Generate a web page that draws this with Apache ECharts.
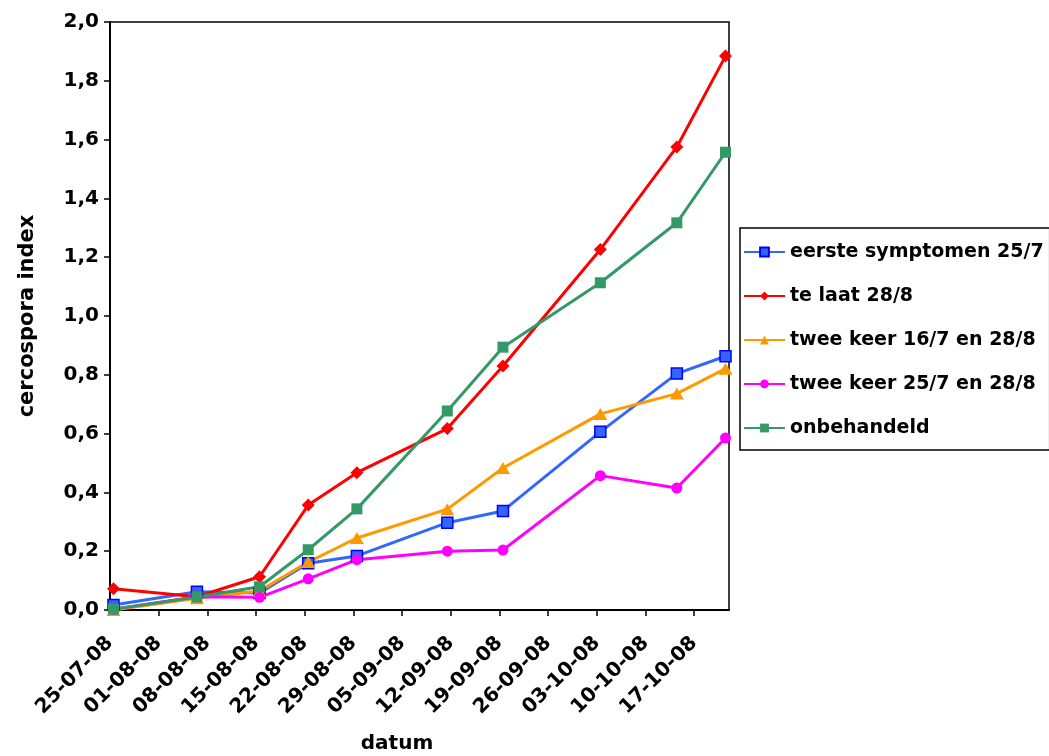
<!DOCTYPE html>
<html>
<head>
<meta charset="utf-8">
<script src="https://cdn.jsdelivr.net/npm/echarts@6/dist/echarts.min.js"></script>
<style>
  html, body { margin: 0; padding: 0; background: #fff; }
  #chart { width: 1049px; height: 756px; }
</style>
</head>
<body>
<div id="chart"></div>
<script>
// Observation dates (dd-mm-yy)
const dates = ['25-07-08', '06-08-08', '15-08-08', '22-08-08', '29-08-08',
               '11-09-08', '19-09-08', '03-10-08', '14-10-08', '21-10-08'];

// Weekly tick labels on the date axis
const tickLabels = ['25-07-08', '01-08-08', '08-08-08', '15-08-08', '22-08-08',
                    '29-08-08', '05-09-08', '12-09-08', '19-09-08', '26-09-08',
                    '03-10-08', '10-10-08', '17-10-08'];

// Cercospora index per treatment
const eersteSymptomen = [0.017, 0.062, 0.058, 0.159, 0.184, 0.297, 0.337, 0.606, 0.804, 0.863];
const teLaat          = [0.072, 0.045, 0.113, 0.357, 0.467, 0.617, 0.830, 1.226, 1.575, 1.884];
const tweeKeer167     = [0.000, 0.040, 0.065, 0.163, 0.245, 0.343, 0.483, 0.667, 0.736, 0.821];
const tweeKeer257     = [0.003, 0.045, 0.043, 0.106, 0.171, 0.200, 0.204, 0.457, 0.415, 0.585];
const onbehandeld     = [0.003, 0.044, 0.079, 0.205, 0.344, 0.677, 0.894, 1.113, 1.317, 1.557];

const seriesNames = ['eerste symptomen 25/7', 'te laat 28/8', 'twee keer 16/7 en 28/8',
                     'twee keer 25/7 en 28/8', 'onbehandeld'];

// Day numbers counted from the first tick date
function toUTC(s) {
  const p = s.split('-').map(Number);
  return Date.UTC(2000 + p[2], p[1] - 1, p[0]);
}
const DAY = 86400000;
const origin = toUTC(tickLabels[0]);
const dayOf = s => Math.round((toUTC(s) - origin) / DAY);
// each date sits in the middle of its one-day slot
const xs = dates.map(d => dayOf(d) + 0.5);
const tickDays = tickLabels.map(dayOf);
const axisMax = dayOf(dates[dates.length - 1]) + 1;

const pair = vals => vals.map((v, i) => [xs[i], v]);

const FONT = 'DejaVu Sans';

const chart = echarts.init(document.getElementById('chart'), null, { renderer: 'canvas' });

const mk = (name, vals, color, symbol, size, extra) => Object.assign({
  name: name,
  type: 'line',
  data: pair(vals),
  symbol: symbol,
  symbolSize: size,
  showAllSymbol: true,
  lineStyle: { color: color, width: 3 },
  itemStyle: { color: color },
  emphasis: { disabled: true },
  animation: false
}, extra || {});

chart.setOption({
  backgroundColor: '#ffffff',
  textStyle: { fontFamily: FONT },
  grid: {
    left: 110, top: 22, right: 320, bottom: 146,
    show: true, borderColor: '#000', borderWidth: 1.5,
    containLabel: false,
    outerBoundsMode: 'none'
  },
  legend: {
    orient: 'vertical',
    left: 740, top: 228,
    padding: [14, 6, 12, 3],
    borderColor: '#000', borderWidth: 1.5,
    itemWidth: 41, itemHeight: 11, itemGap: 24,
    textStyle: { fontFamily: FONT, fontWeight: 'bold', fontSize: 19, color: '#000', lineHeight: 20 },
    data: seriesNames
  },
  xAxis: {
    type: 'value',
    min: 0, max: axisMax, interval: 7,
    name: 'datum',
    nameLocation: 'middle',
    nameGap: 124,
    nameTextStyle: { fontFamily: FONT, fontWeight: 'bold', fontSize: 20, color: '#000', padding: [0, 45, 0, 0] },
    axisLine: { onZero: false, lineStyle: { color: '#000', width: 2 } },
    axisTick: { show: true, length: 6, lineStyle: { color: '#000', width: 1.5 }, customValues: tickDays },
    splitLine: { show: false },
    axisLabel: {
      customValues: tickDays,
      rotate: 45,
      margin: 30,
      padding: [12, 0, 0, 0],
      fontFamily: FONT, fontWeight: 'bold', fontSize: 20, color: '#000',
      formatter: v => { const i = tickDays.indexOf(Math.round(v)); return i >= 0 ? tickLabels[i] : ''; }
    }
  },
  yAxis: {
    type: 'value',
    min: 0, max: 2, interval: 0.2,
    name: 'cercospora index',
    nameLocation: 'middle',
    nameGap: 72,
    nameRotate: 90,
    nameTextStyle: { fontFamily: FONT, fontWeight: 'bold', fontSize: 21, color: '#000' },
    axisLine: { show: true, lineStyle: { color: '#000', width: 2 } },
    axisTick: { show: true, length: 6, lineStyle: { color: '#000', width: 1.5 } },
    splitLine: { show: false },
    axisLabel: {
      margin: 11,
      fontFamily: FONT, fontWeight: 'bold', fontSize: 20, color: '#000',
      formatter: v => v.toFixed(1).replace('.', ',')
    }
  },
  series: [
    mk(seriesNames[0], eersteSymptomen, '#3366ff', 'rect', 11,
       { itemStyle: { color: '#3366ff', borderColor: '#0000ff', borderWidth: 1.5 } }),
    mk(seriesNames[1], teLaat, '#ff0000', 'diamond', 13),
    mk(seriesNames[2], tweeKeer167, '#ff9900', 'triangle', [14, 12]),
    mk(seriesNames[3], tweeKeer257, '#ff00ff', 'circle', 11),
    mk(seriesNames[4], onbehandeld, '#339966', 'rect', 11)
  ]
});
</script>
</body>
</html>
